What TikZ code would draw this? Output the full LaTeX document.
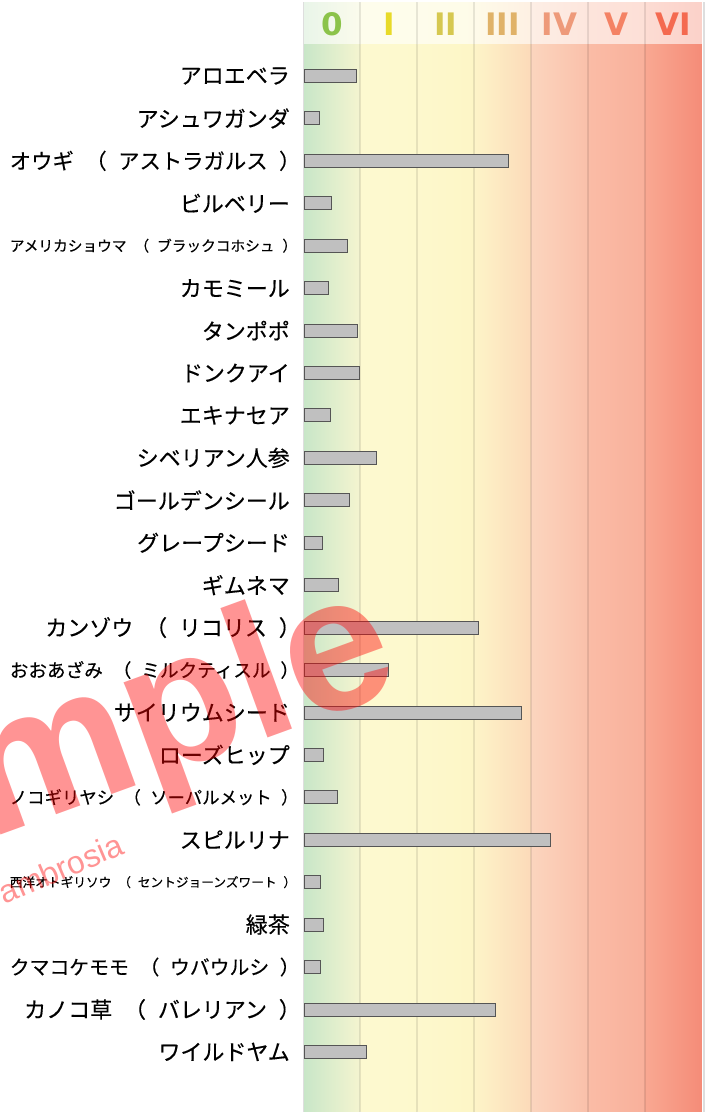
\documentclass[tikz,border=0pt]{standalone}
\usepackage{fontspec}
\usepackage{graphicx}
\setmainfont{Liberation Sans}
\newfontfamily\jpfont[WordSpace=2.4,FakeBold=0.3]{Noto Sans CJK JP}
\newfontfamily\gradefont{DejaVu Sans}

% column colours, light to strong
\definecolor{c0l}{RGB}{200,230,200}
\definecolor{c0r}{RGB}{245,245,208}
\definecolor{c1l}{RGB}{253,249,208}
\definecolor{c1r}{RGB}{253,249,205}
\definecolor{c2l}{RGB}{253,248,205}
\definecolor{c2r}{RGB}{253,246,198}
\definecolor{c3l}{RGB}{253,244,200}
\definecolor{c3r}{RGB}{252,218,185}
\definecolor{c4l}{RGB}{251,213,190}
\definecolor{c4r}{RGB}{250,192,170}
\definecolor{c5l}{RGB}{250,188,166}
\definecolor{c5r}{RGB}{249,176,155}
\definecolor{c6l}{RGB}{249,168,146}
\definecolor{c6r}{RGB}{245,140,120}
% grade letters
\definecolor{g0}{RGB}{139,195,74}
\definecolor{g1}{RGB}{232,218,40}
\definecolor{g2}{RGB}{214,200,80}
\definecolor{g3}{RGB}{224,178,104}
\definecolor{g4}{RGB}{238,154,122}
\definecolor{g5}{RGB}{244,130,100}
\definecolor{g6}{RGB}{244,106,80}
\definecolor{barfill}{RGB}{192,192,192}
\definecolor{barline}{RGB}{85,85,85}
\definecolor{edgegray}{RGB}{222,222,222}

% closing paren: keep only its inked half
\newcommand\rp{）\kern-.5em}
% shrink a label to 280pt when it is wider
\newsavebox\herbbox
\newcommand\herbfit[1]{\sbox\herbbox{#1}%
  \ifdim\wd\herbbox>280pt\resizebox{280pt}{!}{\usebox\herbbox}\else\usebox\herbbox\fi}

\tikzset{
  herb/.style={anchor=east, inner sep=0pt, font=\jpfont\fontsize{22}{22}\selectfont},
  bar/.style={draw=barline, fill=barfill, line width=0.9pt},
  grade/.style={font=\gradefont\fontsize{31}{31}\selectfont\bfseries, inner sep=0pt},
  divider/.style={draw=black, opacity=0.09, line width=2pt},
  watermark/.style={text=red, text opacity=0.42, inner sep=0pt},
}

\begin{document}
\begin{tikzpicture}[x=1pt,y=-1pt]
  \useasboundingbox (0,0) rectangle (705,1112);

  % Define the grade columns
  \foreach \k/\la/\ra in {0/c0l/c0r,1/c1l/c1r,2/c2l/c2r,3/c3l/c3r,4/c4l/c4r,5/c5l/c5r,6/c6l/c6r}{
    \shade[left color=\la!40, right color=\ra!40] ({303.5+56.9*\k},2) rectangle ({303.5+56.9*(\k+1)},44);
    \shade[left color=\la, right color=\ra] ({303.5+56.9*\k},44) rectangle ({303.5+56.9*(\k+1)},1112);
  }
  \foreach \k in {1,...,6}
    \draw[divider] ({303.5+56.9*\k},2) -- ({303.5+56.9*\k},1112);
  \draw[edgegray, line width=1.5pt] (303.5,2) -- (303.5,1112);
  \draw[edgegray, line width=2pt] (703.5,2) -- (703.5,1112);

  % Grade letters
  \foreach \g/\c [count=\k from 0] in {0/g0,I/g1,II/g2,III/g3,IV/g4,V/g5,VI/g6}
    \node[grade, text=\c] (grade\k) at ({303.5+56.9*(\k+0.5)},24) {\g};

  % Herbs and their bars
  \foreach \txt/\len [count=\i from 0] in {
      アロエベラ/356,
      アシュワガンダ/319,
      オウギ （ アストラガルス \rp/508,
      ビルベリー/331,
      アメリカショウマ （ ブラックコホシュ \rp/347,
      カモミール/328,
      タンポポ/357,
      ドンクアイ/359,
      エキナセア/330,
      シベリアン人参/376,
      ゴールデンシール/349,
      グレープシード/322,
      ギムネマ/338,
      カンゾウ （ リコリス \rp/478,
      おおあざみ （ ミルクティスル \rp/388,
      サイリウムシード/521,
      ローズヒップ/323,
      ノコギリヤシ （ ソーパルメット \rp/337,
      スピルリナ/550,
      西洋オトギリソウ （ セントジョーンズワート \rp/320,
      緑茶/323,
      クマコケモモ （ ウバウルシ \rp/320,
      カノコ草 （ バレリアン \rp/495,
      ワイルドヤム/366}{
    \node[herb] (herb\i) at (290,{76+42.43*\i}) {\herbfit{\txt}};
    \draw[bar] (304,{69.5+42.43*\i}) rectangle (\len,{82.5+42.43*\i});
  }

  % Watermark
  \node[watermark, rotate=20, anchor=base east, font=\fontsize{190}{190}\selectfont\bfseries] (wmark) at (405,688) {Sample};
  \node[watermark, rotate=23, anchor=base east, font=\fontsize{32}{32}\selectfont] (wsite) at (126,853) {ambrosia};
\end{tikzpicture}
\end{document}
